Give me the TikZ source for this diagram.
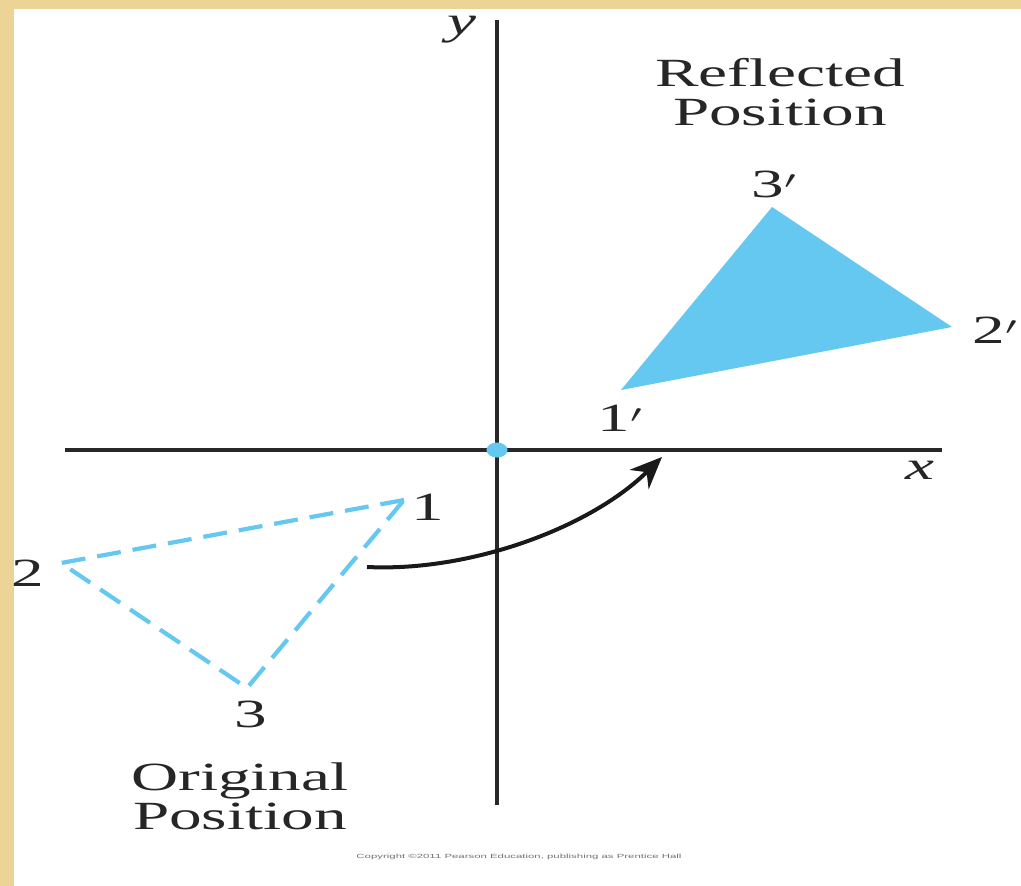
\documentclass[tikz,border=0pt]{standalone}
\usepackage{fontspec}
\setmainfont{Liberation Serif}
\setsansfont{Liberation Sans}
\usetikzlibrary{arrows.meta,shapes.geometric}
\definecolor{parch}{RGB}{236,212,150}
\definecolor{tri}{RGB}{100,200,240}
\definecolor{axis}{RGB}{40,40,40}
\begin{document}
\begin{tikzpicture}[x=1pt,y=-1pt,
  txt/.style={font=\fontsize{40}{39}\selectfont, xscale=1.63, inner sep=0pt, text=black!85},
  axisline/.style={draw=axis, line width=3.2pt},
  dashtri/.style={draw=tri, line width=4.2pt, dash pattern=on 24pt off 12pt},
  turn/.style={draw=black!90, line width=4pt, -{Stealth[length=32pt,width=27pt]}}]
\useasboundingbox (0,0) rectangle (1021,886);
\fill[parch] (0,0) rectangle (1021,886);
\fill[white] (14,9) rectangle (1021,886);
% axes
\coordinate (ytop) at (497,20);
\coordinate (ybot) at (497,805);
\coordinate (xl) at (65,450);
\coordinate (xr) at (942,450);
\draw[axisline] (ybot) -- (ytop);
\draw[axisline] (xl) -- (xr);
\node[fill=tri, ellipse, minimum width=21pt, minimum height=15pt, inner sep=0pt] (o) at (497,450) {};
\node[txt, font=\fontsize{40}{39}\selectfont\itshape] (ylab) at (462,30) {y};
\node[txt, font=\fontsize{40}{39}\selectfont\itshape] (xlab) at (920,470) {x};
% reflected triangle
\coordinate (p1) at (621,390);
\coordinate (p2) at (952,327);
\coordinate (p3) at (772,207);
\fill[tri] (p1) -- (p2) -- (p3) -- cycle;
\node[txt] (l1p) at (620,418) {1$'$};
\node[txt] (l2p) at (995,330) {2$'$};
\node[txt] (l3p) at (774,184) {3$'$};
% original triangle
\coordinate (q1) at (404,500);
\coordinate (q2) at (61,563);
\coordinate (q3) at (247,688);
\draw[dashtri] (q1) -- (q2) -- (q3) -- cycle;
\node[txt] (l1) at (428,507) {1};
\node[txt] (l2) at (28,573) {2};
\node[txt] (l3) at (251,714) {3};
% arrow
\coordinate (as) at (367,567);
\coordinate (ae) at (662,457);
\draw[turn] (as) .. controls (470,572) and (590,528) .. (ae);
% titles
\node[txt, align=center] (refl) at (780,92) {Reflected\\Position};
\node[txt, align=center] (orig) at (240,796) {Original\\Position};
\node[font=\sffamily\fontsize{6}{6}\selectfont, xscale=1.9, text=black!55] (copy) at (519,857) {Copyright ©2011 Pearson Education, publishing as Prentice Hall};
\end{tikzpicture}
\end{document}
